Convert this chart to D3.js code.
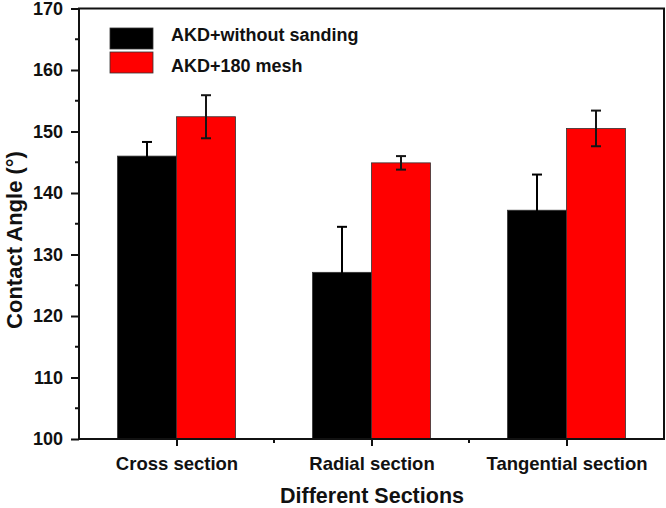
<!DOCTYPE html>
<html><head><meta charset="utf-8">
<script src="https://cdn.jsdelivr.net/npm/d3@7"></script>
<style>body{margin:0;background:#fff}svg{display:block}text{font-family:Arial,"Liberation Sans",sans-serif;font-weight:bold;fill:#111}</style>
</head><body>
<svg id="c" width="666" height="508"></svg>
<script>
const categories = ["Cross section", "Radial section", "Tangential section"];
const seriesNames = ["AKD+without sanding", "AKD+180 mesh"];
const withoutSanding = [146.0, 127.1, 137.2];
const withoutSandingErr = [2.3, 7.4, 5.8];
const mesh180 = [152.4, 144.9, 150.5];
const mesh180Err = [3.5, 1.1, 2.9];
const yTicks = [100, 110, 120, 130, 140, 150, 160, 170];
const colors = ["#000000", "#ff0000"];

const svg = d3.select("#c");
const L = 79, R = 664, T = 8.5, B = 439;
const x = d3.scaleLinear().domain([0.5, 3.5]).range([L, R]);
const y = d3.scaleLinear().domain([100, 170]).range([B, T]);
const barW = 59;

const series = [
  {vals: withoutSanding, err: withoutSandingErr, color: colors[0], off: -1, ebar: "#000"},
  {vals: mesh180, err: mesh180Err, color: colors[1], off: 0, ebar: "#151515"}
];

const g = svg.append("g");
series.forEach(s => {
  g.selectAll(null).data(s.vals).enter().append("rect")
    .attr("x", (d, i) => x(i + 1) + s.off * barW)
    .attr("y", d => y(d))
    .attr("width", barW)
    .attr("height", d => y(100) - y(d))
    .attr("fill", s.color)
    .attr("stroke", "#333").attr("stroke-width", 0.8);
});
// error bars
series.forEach(s => {
  s.vals.forEach((v, i) => {
    const cx = Math.round(x(i + 1) + s.off * barW + barW / 2);
    const eg = g.append("g").attr("stroke", s.ebar).attr("stroke-width", 2);
    eg.append("line").attr("x1", cx).attr("x2", cx).attr("y1", y(v - s.err[i])).attr("y2", y(v + s.err[i]));
    [v - s.err[i], v + s.err[i]].forEach(e => {
      eg.append("line").attr("x1", cx - 5).attr("x2", cx + 5).attr("y1", y(e)).attr("y2", y(e));
    });
  });
});

// frame
svg.append("rect").attr("x", L).attr("y", T).attr("width", R - L).attr("height", B - T)
  .attr("fill", "none").attr("stroke", "#111").attr("stroke-width", 2);

// y axis
const yAxis = d3.axisLeft(y).tickValues(yTicks).tickSize(8).tickPadding(8);
const ya = svg.append("g").attr("transform", `translate(${L},0)`).call(yAxis);
ya.select(".domain").remove();
ya.selectAll("line").attr("stroke", "#111").attr("stroke-width", 2);
ya.selectAll("text").style("font-size", "18px").attr("fill", "#111");
const yMinor = d3.range(105, 170, 10);
svg.append("g").selectAll("line").data(yMinor).enter().append("line")
  .attr("x1", L - 4).attr("x2", L).attr("y1", d => y(d)).attr("y2", d => y(d))
  .attr("stroke", "#111").attr("stroke-width", 2);

// x axis
const xAxis = d3.axisBottom(x).tickValues([1, 2, 3]).tickFormat((d, i) => categories[i]).tickSize(7).tickPadding(11);
const xa = svg.append("g").attr("transform", `translate(0,${B})`).call(xAxis);
xa.select(".domain").remove();
xa.selectAll("line").attr("stroke", "#111").attr("stroke-width", 2);
xa.selectAll("text").style("font-size", "18.5px").attr("fill", "#111");
svg.append("g").selectAll("line").data([1.5, 2.5]).enter().append("line")
  .attr("x1", d => x(d)).attr("x2", d => x(d)).attr("y1", B).attr("y2", B + 4)
  .attr("stroke", "#111").attr("stroke-width", 2);

// axis titles
svg.append("text").attr("x", 372).attr("y", 503).attr("text-anchor", "middle")
  .style("font-size", "21.5px").text("Different Sections");
svg.append("text").attr("transform", `translate(22,240) rotate(-90)`).attr("text-anchor", "middle")
  .style("font-size", "22px").text("Contact Angle (°)");

// legend
const lg = svg.append("g");
seriesNames.forEach((n, i) => {
  lg.append("rect").attr("x", 110).attr("y", 28 + i * 24).attr("width", 43).attr("height", 21)
    .attr("fill", colors[i]).attr("stroke", "#333").attr("stroke-width", 0.8);
  lg.append("text").attr("x", 171).attr("y", 41 + i * 31).style("font-size", "18px").text(n);
});
</script>
</body></html>
